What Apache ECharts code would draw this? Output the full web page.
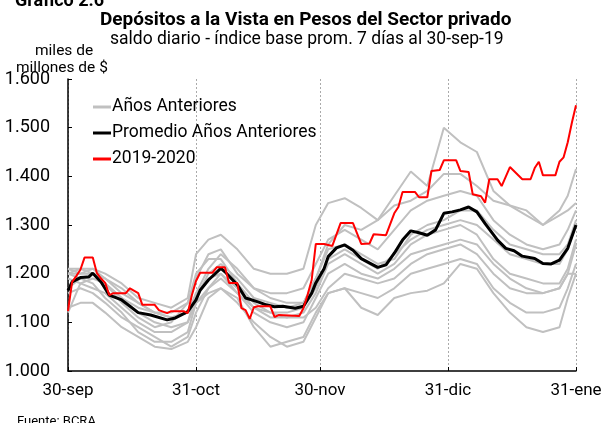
<!DOCTYPE html>
<html>
<head>
<meta charset="utf-8">
<script src="https://cdn.jsdelivr.net/npm/echarts@6/dist/echarts.min.js"></script>
<style>
  html, body { margin: 0; padding: 0; background: #fff; }
  #chart { width: 606px; height: 423px; }
</style>
</head>
<body>
<div id="chart"></div>
<script>
// dias desde 30-sep-2019
var tickDays = [0, 31, 61, 92, 123];
var tickLabels = ['30-sep', '31-oct', '30-nov', '31-dic', '31-ene'];

// 2019-2020
var redDays = [0, 1, 2, 3, 4, 6, 7, 8, 9, 10, 11, 14, 15, 17, 18, 21, 22, 24, 25, 28, 29, 30, 31, 32, 35, 36, 38, 39, 41, 42, 43, 44, 45, 46, 49, 50, 51, 56, 57, 58, 59, 60, 62, 64, 66, 69, 71, 73, 74, 77, 79, 80, 81, 84, 85, 87, 88, 90, 91, 94, 95, 97, 98, 100, 101, 102, 104, 105, 107, 110, 112, 113, 114, 115, 118, 119, 120, 121, 122, 123];
var redValues = [1.123, 1.183, 1.195, 1.208, 1.233, 1.233, 1.201, 1.190, 1.181, 1.156, 1.160, 1.160, 1.170, 1.160, 1.136, 1.136, 1.125, 1.119, 1.123, 1.123, 1.119, 1.156, 1.185, 1.202, 1.202, 1.213, 1.213, 1.181, 1.181, 1.129, 1.125, 1.107, 1.131, 1.133, 1.133, 1.111, 1.115, 1.113, 1.129, 1.156, 1.187, 1.261, 1.261, 1.257, 1.304, 1.304, 1.261, 1.262, 1.281, 1.279, 1.324, 1.337, 1.368, 1.368, 1.357, 1.357, 1.411, 1.413, 1.433, 1.433, 1.411, 1.409, 1.363, 1.359, 1.346, 1.394, 1.394, 1.380, 1.419, 1.394, 1.394, 1.417, 1.430, 1.402, 1.402, 1.430, 1.439, 1.470, 1.510, 1.546];

// promedio años anteriores
var avgDays = [0, 1, 3, 5, 6, 8, 10, 13, 17, 20, 24, 26, 29, 31, 32, 34, 37, 38, 41, 43, 46, 48, 50, 52, 55, 57, 59, 60, 62, 63, 65, 67, 69, 71, 75, 77, 79, 81, 83, 85, 87, 89, 91, 93, 95, 97, 99, 101, 104, 106, 108, 110, 113, 115, 117, 119, 121, 123];
var avgValues = [1.165, 1.183, 1.192, 1.193, 1.201, 1.183, 1.156, 1.146, 1.120, 1.115, 1.105, 1.109, 1.122, 1.146, 1.166, 1.187, 1.211, 1.204, 1.177, 1.150, 1.142, 1.136, 1.132, 1.133, 1.129, 1.133, 1.160, 1.181, 1.210, 1.235, 1.253, 1.259, 1.248, 1.231, 1.213, 1.218, 1.242, 1.269, 1.288, 1.284, 1.279, 1.290, 1.324, 1.327, 1.331, 1.337, 1.327, 1.303, 1.269, 1.252, 1.247, 1.236, 1.231, 1.221, 1.220, 1.228, 1.252, 1.300];

// años anteriores (uno por año)
var grayDays = [0, 3, 6, 9, 13, 17, 21, 25, 29, 31, 34, 37, 41, 45, 49, 53, 57, 60, 63, 67, 71, 75, 79, 83, 87, 91, 95, 99, 103, 107, 111, 115, 119, 121, 123];
var prev1 = [1.20, 1.20, 1.21, 1.19, 1.16, 1.14, 1.12, 1.12, 1.14, 1.19, 1.24, 1.25, 1.20, 1.17, 1.15, 1.14, 1.14, 1.19, 1.26, 1.30, 1.29, 1.31, 1.36, 1.41, 1.38, 1.50, 1.47, 1.45, 1.37, 1.34, 1.33, 1.30, 1.32, 1.33, 1.345];
var prev2 = [1.21, 1.21, 1.21, 1.20, 1.18, 1.15, 1.14, 1.13, 1.15, 1.24, 1.27, 1.28, 1.25, 1.21, 1.20, 1.20, 1.21, 1.30, 1.345, 1.355, 1.335, 1.31, 1.34, 1.35, 1.37, 1.405, 1.405, 1.38, 1.35, 1.34, 1.32, 1.30, 1.33, 1.36, 1.415];
var prev3 = [1.17, 1.19, 1.20, 1.19, 1.17, 1.14, 1.12, 1.11, 1.12, 1.16, 1.21, 1.24, 1.21, 1.17, 1.16, 1.16, 1.17, 1.22, 1.27, 1.29, 1.27, 1.25, 1.29, 1.33, 1.35, 1.36, 1.37, 1.36, 1.31, 1.28, 1.26, 1.25, 1.26, 1.29, 1.33];
var prev4 = [1.12, 1.18, 1.19, 1.18, 1.15, 1.13, 1.12, 1.11, 1.12, 1.15, 1.20, 1.22, 1.19, 1.15, 1.14, 1.13, 1.14, 1.19, 1.25, 1.26, 1.24, 1.22, 1.23, 1.28, 1.30, 1.31, 1.33, 1.33, 1.29, 1.26, 1.25, 1.24, 1.24, 1.26, 1.31];
var prev5 = [1.20, 1.21, 1.20, 1.18, 1.14, 1.11, 1.09, 1.10, 1.14, 1.20, 1.23, 1.23, 1.18, 1.14, 1.12, 1.12, 1.13, 1.17, 1.23, 1.25, 1.23, 1.21, 1.24, 1.27, 1.29, 1.30, 1.31, 1.30, 1.27, 1.24, 1.23, 1.22, 1.22, 1.25, 1.30];
var prev6 = [1.19, 1.18, 1.17, 1.16, 1.13, 1.10, 1.08, 1.08, 1.10, 1.16, 1.19, 1.20, 1.16, 1.13, 1.12, 1.11, 1.12, 1.16, 1.22, 1.24, 1.22, 1.20, 1.22, 1.26, 1.28, 1.29, 1.30, 1.28, 1.23, 1.20, 1.19, 1.18, 1.18, 1.21, 1.27];
var prev7 = [1.16, 1.17, 1.16, 1.14, 1.11, 1.09, 1.07, 1.05, 1.07, 1.12, 1.17, 1.19, 1.16, 1.12, 1.10, 1.09, 1.10, 1.15, 1.20, 1.22, 1.20, 1.19, 1.21, 1.24, 1.25, 1.26, 1.27, 1.26, 1.22, 1.19, 1.17, 1.16, 1.17, 1.20, 1.26];
var prev8 = [1.13, 1.14, 1.14, 1.12, 1.09, 1.07, 1.05, 1.045, 1.06, 1.09, 1.15, 1.17, 1.14, 1.10, 1.07, 1.05, 1.06, 1.11, 1.16, 1.17, 1.16, 1.15, 1.17, 1.20, 1.21, 1.22, 1.23, 1.22, 1.17, 1.14, 1.12, 1.12, 1.13, 1.17, 1.22];
var prev9 = [1.20, 1.19, 1.18, 1.15, 1.12, 1.08, 1.06, 1.06, 1.08, 1.14, 1.16, 1.17, 1.15, 1.09, 1.05, 1.06, 1.07, 1.12, 1.16, 1.17, 1.13, 1.115, 1.15, 1.16, 1.165, 1.18, 1.22, 1.21, 1.16, 1.12, 1.09, 1.08, 1.09, 1.15, 1.20];
var prev10 = [1.21, 1.20, 1.20, 1.18, 1.15, 1.12, 1.10, 1.09, 1.10, 1.14, 1.17, 1.20, 1.17, 1.13, 1.11, 1.11, 1.11, 1.13, 1.17, 1.20, 1.19, 1.18, 1.19, 1.22, 1.24, 1.25, 1.26, 1.24, 1.20, 1.17, 1.16, 1.16, 1.17, 1.20, 1.20];

var prevYears = [prev1, prev2, prev3, prev4, prev5, prev6, prev7, prev8, prev9, prev10];

function pairs(days, vals) {
    var out = [];
    for (var i = 0; i < vals.length; i++) {
        out.push([days[i], vals[i]]);
    }
    return out;
}

var myChart = echarts.init(document.getElementById('chart'));

var series = [];
for (var k = 0; k < prevYears.length; k++) {
    series.push({
        name: 'Años Anteriores',
        type: 'line',
        symbol: 'none',
        data: pairs(grayDays, prevYears[k]),
        lineStyle: { color: '#c0c0c0', width: 2 },
        itemStyle: { color: '#c0c0c0' },
        z: 2
    });
}
series.push({
    name: 'Promedio Años Anteriores',
    type: 'line',
    symbol: 'none',
    data: pairs(avgDays, avgValues),
    lineStyle: { color: '#000', width: 3 },
    itemStyle: { color: '#000' },
    z: 3
});
series.push({
    name: '2019-2020',
    type: 'line',
    symbol: 'none',
    data: pairs(redDays, redValues),
    lineStyle: { color: '#ff0000', width: 2 },
    itemStyle: { color: '#ff0000' },
    z: 4
});

var font = 'Roboto';

var option = {
    animation: false,
    textStyle: { fontFamily: font },
    title: [
        { text: 'Gráfico 2.6', left: 10, top: -13, textStyle: { fontFamily: font, fontSize: 18, fontWeight: 'bold', color: '#000' } },
        { text: 'Depósitos a la Vista en Pesos del Sector privado', left: 95, top: 6, textStyle: { fontFamily: font, fontSize: 19, fontWeight: 'bold', color: '#000' } },
        { text: 'saldo diario - índice base prom. 7 días al 30-sep-19', left: 105, top: 26, textStyle: { fontFamily: font, fontSize: 17.5, fontWeight: 'normal', color: '#000' } },
        { text: 'miles de', left: 30, top: 38, textStyle: { fontFamily: font, fontSize: 15.5, fontWeight: 'normal', color: '#000' } },
        { text: 'millones de $', left: 11, top: 55, textStyle: { fontFamily: font, fontSize: 15.5, fontWeight: 'normal', color: '#000' } },
        { text: 'Fuente: BCRA', left: 12, top: 410, textStyle: { fontFamily: font, fontSize: 13, fontWeight: 'normal', color: '#000' } }
    ],
    legend: {
        orient: 'vertical',
        left: 88,
        top: 93,
        icon: 'rect',
        itemWidth: 18,
        itemHeight: 3,
        itemGap: 8,
        data: ['Años Anteriores', 'Promedio Años Anteriores', '2019-2020'],
        textStyle: { fontFamily: font, fontSize: 17.5, color: '#000', padding: [0, 0, 0, -4] }
    },
    grid: { left: 68, right: 30, top: 79, bottom: 52, containLabel: false },
    xAxis: {
        type: 'value',
        min: 0,
        max: 123,
        axisLine: { lineStyle: { color: '#000', width: 1.5 } },
        axisTick: { show: true, inside: true, length: 4, customValues: tickDays, lineStyle: { color: '#000' } },
        axisLabel: {
            customValues: tickDays,
            margin: 11,
            fontSize: 17,
            color: '#000',
            fontFamily: font,
            formatter: function (v) {
                var i = tickDays.indexOf(v);
                return i >= 0 ? tickLabels[i] : '';
            }
        },
        splitLine: { show: true, lineStyle: { color: '#aaa', type: [2, 2], width: 1 } }
    },
    yAxis: {
        type: 'value',
        min: 1,
        max: 1.6,
        interval: 0.1,
        axisLine: { show: true, lineStyle: { color: '#000', width: 1.5 } },
        axisTick: { show: true, inside: true, length: 4, lineStyle: { color: '#000' } },
        axisLabel: {
            margin: 18,
            fontSize: 18,
            color: '#000',
            fontFamily: font,
            formatter: function (v) { return v.toFixed(3); }
        },
        splitLine: { show: false }
    },
    series: series
};

myChart.setOption(option);
</script>
</body>
</html>
